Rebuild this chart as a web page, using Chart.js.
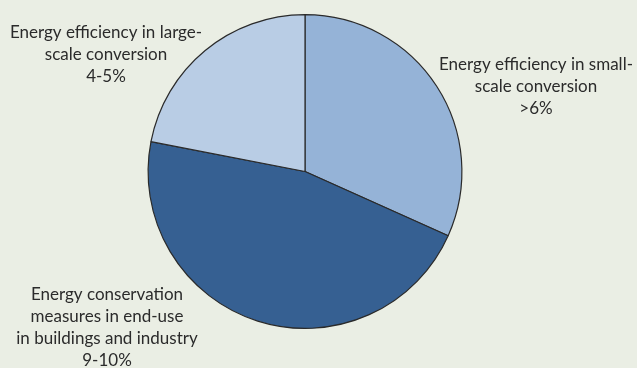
<!DOCTYPE html>
<html>
<head>
<meta charset="utf-8">
<script src="https://cdn.jsdelivr.net/npm/chart.js@4/dist/chart.umd.min.js"></script>
<style>
  html, body { margin: 0; padding: 0; background: #eaeee4; }
  #wrap { width: 637px; height: 368px; position: relative; }
</style>
</head>
<body>
<div id="wrap"><canvas id="pie"></canvas></div>
<script>
const SHARE_LABELS = [
  ['Energy efficiency in small-', 'scale conversion', '>6%'],
  ['Energy conservation', 'measures in end-use', 'in buildings and industry', '9-10%'],
  ['Energy efficiency in large-', 'scale conversion', '4-5%'],
];
const SHARE_VALUES = [6.5, 9.5, 4.5];

const SLICE_COLORS = ['#95b3d7', '#366092', '#b9cde5'];
const EDGE_COLOR = '#2a2a2a';
const TEXT_COLOR = '#2b2b2b';

// where each label block sits (centre x, first baseline-centre y), plus line spacing
const LABEL_SPOTS = [
  { x: 536, y: 65 },
  { x: 107, y: 295 },
  { x: 106, y: 33 },
];
const LINE_GAP = 21.7;

const sliceLabels = {
  id: 'sliceLabels',
  afterDraw(chart) {
    const { ctx } = chart;
    ctx.save();
    ctx.fillStyle = TEXT_COLOR;
    ctx.font = '17px Lato, "Open Sans", sans-serif';
    ctx.textAlign = 'center';
    ctx.textBaseline = 'middle';
    chart.data.labels.forEach((lines, i) => {
      const spot = LABEL_SPOTS[i];
      lines.forEach((line, j) => ctx.fillText(line, spot.x, spot.y + j * LINE_GAP));
    });
    ctx.restore();
  },
};

new Chart(document.getElementById('pie'), {
  type: 'pie',
  data: {
    labels: SHARE_LABELS,
    datasets: [{
      data: SHARE_VALUES,
      backgroundColor: SLICE_COLORS,
      borderColor: EDGE_COLOR,
      borderWidth: 1.2,
      hoverOffset: 0,
    }],
  },
  options: {
    responsive: true,
    maintainAspectRatio: false,
    animation: false,
    layout: { padding: { top: 14, bottom: 39, left: 147, right: 174 } },
    plugins: {
      legend: { display: false },
      tooltip: { enabled: false },
    },
  },
  plugins: [sliceLabels],
});
</script>
</body>
</html>
